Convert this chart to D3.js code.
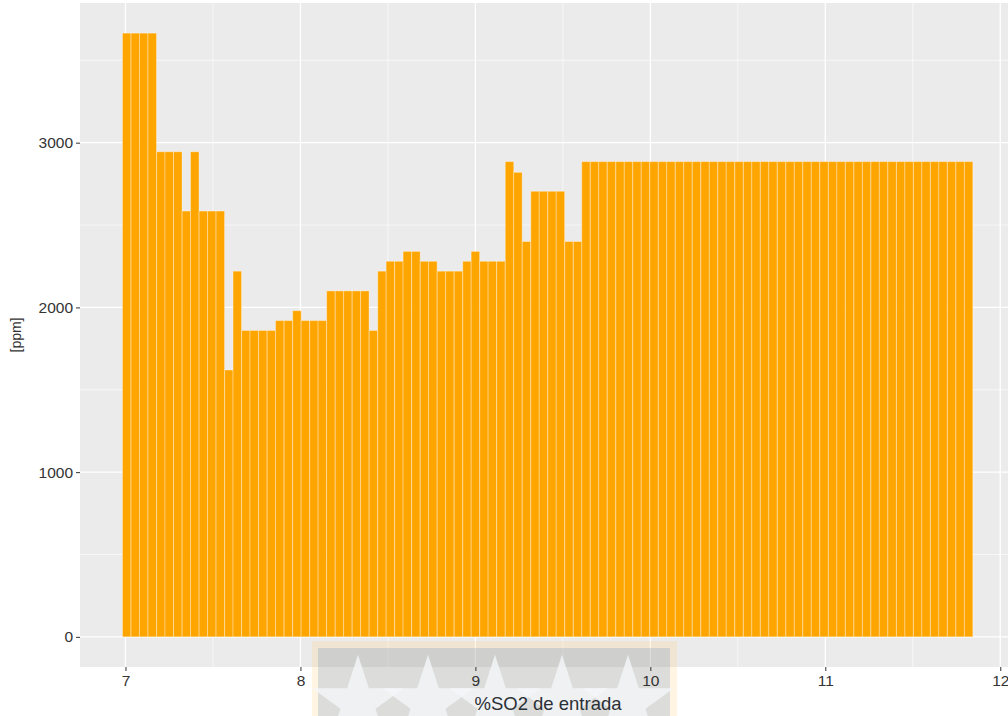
<!DOCTYPE html>
<html>
<head>
<meta charset="utf-8">
<script src="https://cdn.jsdelivr.net/npm/d3@7"></script>
<style>
  html, body { margin: 0; padding: 0; background: #ffffff; }
  svg { display: block; }
  text { font-family: "Liberation Sans", Arial, sans-serif; }
</style>
</head>
<body>
<svg id="chart" width="1008" height="716"></svg>
<script>
// Inlet SO2 concentration (%) for each bar centre
const so2 = [
  7.007, 7.056, 7.104, 7.153, 7.202, 7.250, 7.299, 7.348, 7.396, 7.445,
  7.493, 7.542, 7.591, 7.639, 7.688, 7.736, 7.785, 7.834, 7.882, 7.931,
  7.980, 8.028, 8.077, 8.125, 8.174, 8.223, 8.271, 8.320, 8.368, 8.417,
  8.466, 8.514, 8.563, 8.611, 8.660, 8.709, 8.757, 8.806, 8.854, 8.903,
  8.952, 9.000, 9.049, 9.097, 9.146, 9.195, 9.243, 9.292, 9.341, 9.389,
  9.438, 9.486, 9.535, 9.584, 9.632, 9.681, 9.729, 9.778, 9.827, 9.875,
  9.924, 9.972, 10.021, 10.070, 10.118, 10.167, 10.215, 10.264, 10.313, 10.361,
  10.410, 10.458, 10.507, 10.556, 10.604, 10.653, 10.701, 10.750, 10.799, 10.847,
  10.896, 10.944, 10.993, 11.042, 11.090, 11.139, 11.188, 11.236, 11.285, 11.333,
  11.382, 11.431, 11.479, 11.528, 11.576, 11.625, 11.673, 11.722, 11.771, 11.819
];

// Outlet concentration in ppm
const ppm = [
  3665, 3665, 3665, 3665, 2945, 2945, 2945, 2585, 2945, 2585,
  2585, 2585, 1620, 2220, 1860, 1860, 1860, 1860, 1920, 1920,
  1980, 1920, 1920, 1920, 2100, 2100, 2100, 2100, 2100, 1860,
  2220, 2280, 2280, 2340, 2340, 2280, 2280, 2220, 2220, 2220,
  2280, 2340, 2280, 2280, 2280, 2885, 2820, 2400, 2705, 2705,
  2705, 2705, 2400, 2400, 2885, 2885, 2885, 2885, 2885, 2885,
  2885, 2885, 2885, 2885, 2885, 2885, 2885, 2885, 2885, 2885,
  2885, 2885, 2885, 2885, 2885, 2885, 2885, 2885, 2885, 2885,
  2885, 2885, 2885, 2885, 2885, 2885, 2885, 2885, 2885, 2885,
  2885, 2885, 2885, 2885, 2885, 2885, 2885, 2885, 2885, 2885
];

const barWidth = 0.0486;
const xTicks = [7, 8, 9, 10, 11, 12];
const xMinor = [7.5, 8.5, 9.5, 10.5, 11.5];
const yTicks = [0, 1000, 2000, 3000];
const yMinor = [500, 1500, 2500, 3500];
const xTitle = "%SO2 de entrada";
const yTitle = "[ppm]";

const data = so2.map((v, i) => ({ x: v, y: ppm[i] }));

const svg = d3.select("#chart");
const panel = { left: 80, right: 1016, top: 3, bottom: 667 };

const x = d3.scaleLinear().domain([6.74, 12.09]).range([panel.left, panel.right]);
const y = d3.scaleLinear().domain([-183, 3848]).range([panel.bottom, panel.top]);

// panel background
svg.append("rect")
  .attr("x", panel.left).attr("y", panel.top)
  .attr("width", panel.right - panel.left)
  .attr("height", panel.bottom - panel.top)
  .attr("fill", "#ebebeb");

const grid = svg.append("g");
grid.selectAll(".xminor").data(xMinor).join("line")
  .attr("x1", d => x(d)).attr("x2", d => x(d))
  .attr("y1", panel.top).attr("y2", panel.bottom)
  .attr("stroke", "#ffffff").attr("stroke-width", 0.6);
grid.selectAll(".yminor").data(yMinor).join("line")
  .attr("y1", d => y(d)).attr("y2", d => y(d))
  .attr("x1", panel.left).attr("x2", panel.right)
  .attr("stroke", "#ffffff").attr("stroke-width", 0.6);
grid.selectAll(".xmajor").data(xTicks).join("line")
  .attr("x1", d => x(d)).attr("x2", d => x(d))
  .attr("y1", panel.top).attr("y2", panel.bottom)
  .attr("stroke", "#ffffff").attr("stroke-width", 1.3);
grid.selectAll(".ymajor").data(yTicks).join("line")
  .attr("y1", d => y(d)).attr("y2", d => y(d))
  .attr("x1", panel.left).attr("x2", panel.right)
  .attr("stroke", "#ffffff").attr("stroke-width", 1.3);

// bars
svg.append("g").selectAll("rect").data(data).join("rect")
  .attr("x", d => x(d.x - barWidth / 2))
  .attr("width", d => x(d.x + barWidth / 2) - x(d.x - barWidth / 2))
  .attr("y", d => y(d.y))
  .attr("height", d => y(0) - y(d.y))
  .attr("fill", "#ffa500")
  .attr("stroke", "#ffffff")
  .attr("stroke-opacity", 0.35)
  .attr("stroke-width", 1);

// translucent badge along the bottom edge
const badge = svg.append("g");
badge.append("rect")
  .attr("x", 312).attr("y", 641).attr("width", 365).attr("height", 80)
  .attr("fill", "#ffcf70").attr("fill-opacity", 0.2);
badge.append("rect")
  .attr("x", 318).attr("y", 648).attr("width", 352).attr("height", 70)
  .attr("fill", "#5f86c0").attr("fill-opacity", 0.22);
const star = d3.symbol().type(d3.symbolStar).size(2600);
badge.selectAll("path").data([358, 428, 495, 562, 628]).join("path")
  .attr("d", star)
  .attr("transform", d => `translate(${d},703)`)
  .attr("fill", "#f4f6f9").attr("fill-opacity", 0.8);

// axes
const xAxis = svg.append("g")
  .attr("transform", `translate(0,${panel.bottom})`)
  .call(d3.axisBottom(x).tickValues(xTicks).tickFormat(d3.format("d")).tickSize(4).tickPadding(4));
const yAxis = svg.append("g")
  .attr("transform", `translate(${panel.left},0)`)
  .call(d3.axisLeft(y).tickValues(yTicks).tickFormat(d3.format("d")).tickSize(4).tickPadding(3));

[xAxis, yAxis].forEach(ax => {
  ax.select(".domain").remove();
  ax.selectAll(".tick line").attr("stroke", "#333333").attr("stroke-width", 1);
  ax.selectAll(".tick text")
    .attr("fill", "#333333")
    .attr("font-size", 15.5)
    .attr("font-family", "'Liberation Sans', Arial, sans-serif");
});

// axis titles
svg.append("text")
  .attr("x", (panel.left + panel.right) / 2)
  .attr("y", 710)
  .attr("text-anchor", "middle")
  .attr("font-size", 18.5)
  .attr("fill", "#2b2f36")
  .text(xTitle);

svg.append("text")
  .attr("transform", `translate(21,${(panel.top + panel.bottom) / 2}) rotate(-90)`)
  .attr("text-anchor", "middle")
  .attr("font-size", 14)
  .attr("fill", "#333333")
  .text(yTitle);
</script>
</body>
</html>
